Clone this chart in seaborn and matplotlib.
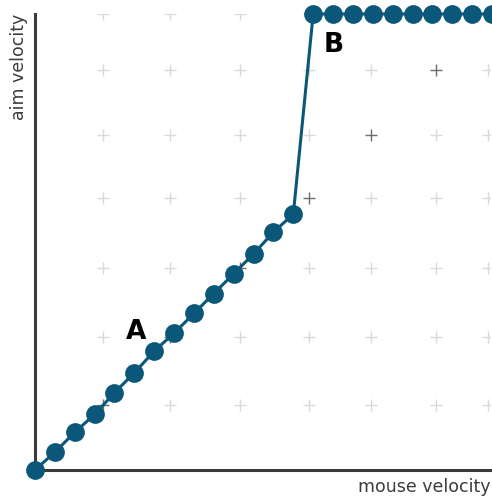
import numpy as np
import pandas as pd
import matplotlib
matplotlib.use("Agg")
import matplotlib.pyplot as plt
import seaborn as sns

# Curve: linear segment (A) then a jump to the capped level (B)
curve_x = [0, 1, 2, 3, 4, 5, 6, 7, 8, 9, 10, 11, 12, 13,
           14, 15, 16, 17, 18, 19, 20, 21, 22, 23]
curve_y = [0, 0.9, 1.9, 2.8, 3.9, 4.9, 6.0, 6.9, 7.9, 8.9, 9.9, 10.9, 12.0, 12.9,
           23, 23, 23, 23, 23, 23, 23, 23, 23, 23]

# Background "+" grid
grid_cols = [3.4, 6.8, 10.3, 13.8, 16.9, 20.2, 22.8]
grid_rows = [3.3, 6.7, 10.2, 13.7, 16.9, 20.2, 23.0]

labels = ["A", "B"]
label_x = [5.1, 15.05]
label_y = [6.95, 21.45]

line_color = "#0b5779"

sns.set_style("white")
plt.rcParams["font.family"] = ["DejaVu Sans"]

fig = plt.figure(figsize=(4.92, 5.04), dpi=100)
ax = fig.add_axes([35 / 492, 34 / 504, 455 / 492, 456 / 504])

# grid crosses, diagonal ones darker
gx, gy = np.meshgrid(grid_cols, grid_rows)
grid = pd.DataFrame({"x": gx.ravel(), "y": gy.ravel(),
                     "diag": (np.arange(49) // 7) == (np.arange(49) % 7)})
sns.scatterplot(data=grid[~grid["diag"]], x="x", y="y", marker="+", s=80,
                color="#d9d9d9", linewidth=1, ax=ax, zorder=1)
sns.scatterplot(data=grid[grid["diag"]], x="x", y="y", marker="+", s=80,
                color="#6e6e6e", linewidth=1, ax=ax, zorder=1)

curve = pd.DataFrame({"x": curve_x, "y": curve_y})
sns.lineplot(data=curve, x="x", y="y", sort=False, color=line_color, linewidth=2.2,
             marker="o", markersize=13.5, markeredgewidth=0, clip_on=False,
             ax=ax, zorder=3)

for t, x, y in zip(labels, label_x, label_y):
    ax.text(x, y, t, fontsize=19, fontweight="bold", color="black",
            ha="center", va="center", zorder=4)

ax.set_xlim(0, 22.9)
ax.set_ylim(0, 23)
ax.set_xticks([])
ax.set_yticks([])
for side in ["top", "right"]:
    ax.spines[side].set_visible(False)
for side in ["left", "bottom"]:
    ax.spines[side].set_color("#3a3a3a")
    ax.spines[side].set_linewidth(2.2)

ax.set_xlabel("mouse velocity", loc="right", fontsize=12.5, color="#3c3c3c", labelpad=6)
ax.set_ylabel("aim velocity", loc="top", fontsize=12.5, color="#3c3c3c", labelpad=5)

fig.savefig("out.png", dpi=100)
